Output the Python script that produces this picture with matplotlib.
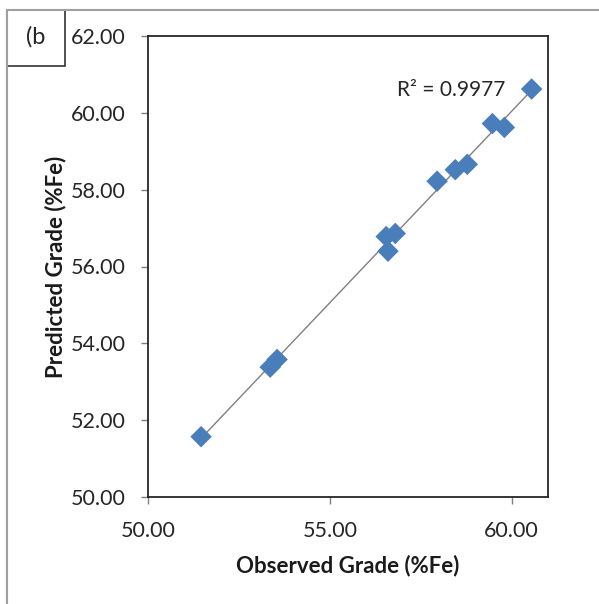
import numpy as np
import matplotlib.pyplot as plt
from matplotlib.patches import Rectangle
from matplotlib.lines import Line2D

plt.rcParams['font.family'] = ['Lato', 'DejaVu Sans']

observed = [51.46, 53.36, 53.55, 56.55, 56.80, 56.60, 57.95, 58.45, 58.78, 59.47, 59.80, 60.55]
predicted = [51.57, 53.38, 53.58, 56.78, 56.86, 56.40, 58.22, 58.52, 58.66, 59.72, 59.62, 60.62]
r2_label = 'R² = 0.9977'

x = np.array(observed)
y = np.array(predicted)

# Recta de ajuste (lineal)
m, b = np.polyfit(x, y, 1)
x_fit = np.array([x.min(), x.max()])
y_fit = m * x_fit + b

fig = plt.figure(figsize=(5.99, 6.04), dpi=100)
ax = fig.add_axes([148 / 599, 1 - 497 / 604, 400 / 599, 461 / 604])

ax.plot(x_fit, y_fit, color='#808080', lw=1.0, zorder=2)
ax.scatter(x, y, marker='D', s=120, color='#4a7ebb', edgecolors='none', zorder=3)

ax.set_xlim(50, 61)
ax.set_ylim(50, 62)
ax.set_xticks([50, 55, 60])
ax.set_yticks(np.arange(50, 62.1, 2))
ax.set_xticklabels([f'{v:.2f}' for v in [50, 55, 60]])
ax.set_yticklabels([f'{v:.2f}' for v in np.arange(50, 62.1, 2)])
ax.tick_params(axis='both', labelsize=15.5, colors='#808080', length=5, width=1,
               labelcolor='#262626')
ax.tick_params(axis='y', pad=11)
ax.tick_params(axis='x', pad=12)

for s in ax.spines.values():
    s.set_color('#262626')
    s.set_linewidth(1.3)

ax.set_xlabel('Observed Grade (%Fe)', fontsize=16, fontweight='bold', color='#1a1a1a', labelpad=10)
ax.set_ylabel('Predicted Grade (%Fe)', fontsize=16, fontweight='bold', color='#1a1a1a', labelpad=3)

ax.text(56.85, 60.6, r2_label, fontsize=15, color='#262626', va='center', ha='left')

# Marco exterior y etiqueta "(b"
fig.add_artist(Line2D([7 / 599, 7 / 599], [0, 1 - 10 / 604], transform=fig.transFigure,
                      color='#a0a0a0', lw=1.5))
fig.add_artist(Line2D([7 / 599, 1], [1 - 10 / 604, 1 - 10 / 604], transform=fig.transFigure,
                      color='#a0a0a0', lw=1.5))
fig.add_artist(Rectangle((7 / 599, 1 - 66 / 604), 58 / 599, 56 / 604, transform=fig.transFigure,
                         fill=False, edgecolor='#333333', lw=1.2))
fig.text(36 / 599, 1 - 37 / 604, '(b', fontsize=17, ha='center', va='center', color='#262626')

plt.savefig('out.png', dpi=100)
